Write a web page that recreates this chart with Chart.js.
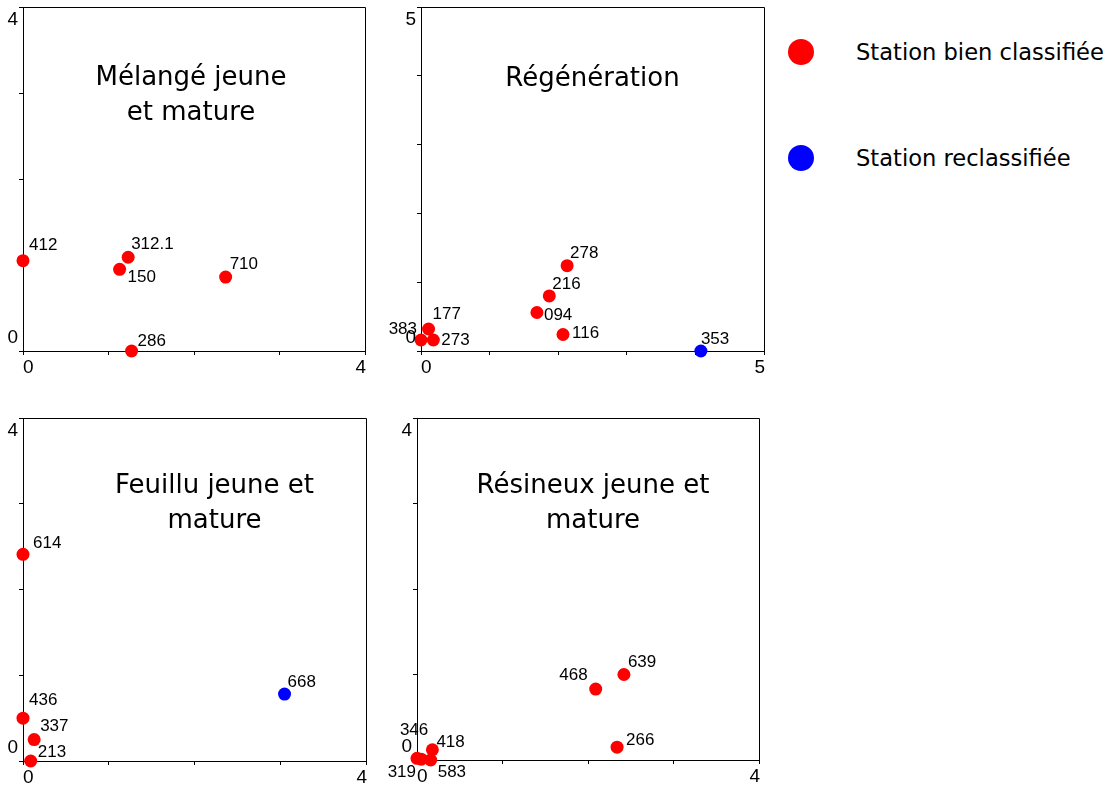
<!DOCTYPE html>
<html lang="fr">
<head>
<meta charset="utf-8">
<script src="https://cdn.jsdelivr.net/npm/chart.js@4"></script>
<style>
  body { margin: 0; background: #fff; width: 1115px; height: 786px; position: relative; overflow: hidden; }
  canvas { position: absolute; }
  .leg { position: absolute; left: 788px; height: 28px; display: flex; align-items: center;
         font: 22.6px "DejaVu Sans", sans-serif; color: #000; white-space: nowrap; }
  .leg .dot { width: 26px; height: 26px; border-radius: 50%; margin-right: 42px; flex: none; }
</style>
</head>
<body>
<canvas id="c1" width="375" height="380" style="left:0;top:0"></canvas>
<canvas id="c2" width="395" height="380" style="left:380px;top:0"></canvas>
<canvas id="c3" width="375" height="386" style="left:0;top:400px"></canvas>
<canvas id="c4" width="395" height="386" style="left:380px;top:400px"></canvas>
<div id="legend"></div>
<script>
// Legend
const legendLabels = ['Station bien classifiée', 'Station reclassifiée'];
const statusColors = ['#ff0000', '#0000ff'];

// Mélangé jeune et mature
const p1Labels = ['412', '312.1', '150', '710', '286'];
const p1X = [0, 1.23, 1.13, 2.37, 1.27];
const p1Y = [1.05, 1.09, 0.95, 0.86, 0];
const p1Status = [0, 0, 0, 0, 0];

// Régénération
const p2Labels = ['383', '177', '273', '094', '216', '278', '116', '353'];
const p2X = [0, 0.11, 0.18, 1.69, 1.87, 2.13, 2.07, 4.08];
const p2Y = [0.16, 0.32, 0.16, 0.56, 0.80, 1.24, 0.24, 0];
const p2Status = [0, 0, 0, 0, 0, 0, 0, 1];

// Feuillu jeune et mature
const p3Labels = ['614', '436', '337', '213', '668'];
const p3X = [0, 0, 0.13, 0.09, 3.05];
const p3Y = [2.41, 0.50, 0.25, 0, 0.78];
const p3Status = [0, 0, 0, 0, 1];

// Résineux jeune et mature
const p4Labels = ['319', '346', '583', '418', '468', '639', '266'];
const p4X = [0, 0.05, 0.16, 0.18, 2.09, 2.42, 2.34];
const p4Y = [0.02, 0.01, 0, 0.12, 0.83, 1.0, 0.15];
const p4Status = [0, 0, 0, 0, 0, 0, 0];

// Tick labels (min, max)
const ticks4 = ['0', '4'];
const ticks5 = ['0', '5'];

// label placement next to each point: [dx, dy, align]
const p1LabelPos = [[6, -15, 'left'], [3, -13, 'left'], [8, 8, 'left'], [4, -13, 'left'], [6, -10, 'left']];
const p2LabelPos = [[-4, -11, 'right'], [4, -15, 'left'], [8, 0, 'left'], [7, 3, 'left'], [3, -12, 'left'],
                    [3, -12, 'left'], [9, -1, 'left'], [0, -12, 'left']];
const p3LabelPos = [[10, -11, 'left'], [6, -18, 'left'], [6, -13, 'left'], [7, -9, 'left'], [3, -12, 'left']];
const p4LabelPos = [[-1, 14, 'right'], [7, -29, 'right'], [7, 12, 'left'], [4, -7, 'left'], [-8, -14, 'right'],
                    [4, -12, 'left'], [9, -7, 'left']];

const panels = [
  { id: 'c1', title: ['Mélangé jeune', 'et mature'], titleDx: -3, titleDy: 78, max: 4, tickLabels: ticks4,
    labels: p1Labels, xs: p1X, ys: p1Y, status: p1Status, labelPos: p1LabelPos,
    yWidth: 23, xHeight: 29, padTop: 7, padRight: 10 },
  { id: 'c2', title: ['Régénération'], titleDx: 0, titleDy: 79, max: 5, tickLabels: ticks5,
    labels: p2Labels, xs: p2X, ys: p2Y, status: p2Status, labelPos: p2LabelPos,
    yWidth: 41, xHeight: 29, padTop: 7, padRight: 11 },
  { id: 'c3', title: ['Feuillu jeune et', 'mature'], titleDx: 20, titleDy: 75, max: 4, tickLabels: ticks4,
    labels: p3Labels, xs: p3X, ys: p3Y, status: p3Status, labelPos: p3LabelPos,
    yWidth: 23, xHeight: 25, padTop: 18, padRight: 9 },
  { id: 'c4', title: ['Résineux jeune et', 'mature'], titleDx: 5, titleDy: 75, max: 4, tickLabels: ticks4,
    labels: p4Labels, xs: p4X, ys: p4Y, status: p4Status, labelPos: p4LabelPos,
    yWidth: 37, xHeight: 26, padTop: 18, padRight: 16 }
];

// frame, end tick labels, title and point labels
function panelPlugin(panel) {
  return {
    id: 'panelDeco',
    afterDraw(chart) {
      const { ctx, chartArea: a, scales: { x, y } } = chart;
      ctx.save();
      ctx.strokeStyle = '#000';
      ctx.lineWidth = 1;
      ctx.beginPath();
      ctx.moveTo(a.left, a.top + 0.5);
      ctx.lineTo(a.right + 0.5, a.top + 0.5);
      ctx.lineTo(a.right + 0.5, a.bottom);
      ctx.stroke();

      ctx.fillStyle = '#000';
      ctx.font = '19px "Liberation Sans", Arial, sans-serif';
      ctx.textBaseline = 'middle';
      ctx.textAlign = 'left';
      ctx.fillText(panel.tickLabels[0], x.getPixelForValue(x.min), a.bottom + 17);
      ctx.textAlign = 'right';
      ctx.fillText(panel.tickLabels[1], x.getPixelForValue(x.max) + 1, a.bottom + 17);
      ctx.fillText(panel.tickLabels[1], a.left - 5, y.getPixelForValue(y.max) + 13);
      ctx.fillText(panel.tickLabels[0], a.left - 5, y.getPixelForValue(y.min) - 13);

      ctx.font = '26px "DejaVu Sans", sans-serif';
      ctx.textAlign = 'center';
      ctx.textBaseline = 'alphabetic';
      const cx = (a.left + a.right) / 2 + panel.titleDx;
      panel.title.forEach((line, i) => ctx.fillText(line, cx, a.top + panel.titleDy + i * 35));

      ctx.font = '17px "Liberation Sans", Arial, sans-serif';
      ctx.textBaseline = 'middle';
      chart.getDatasetMeta(0).data.forEach((pt, i) => {
        const [dx, dy, align] = panel.labelPos[i];
        ctx.textAlign = align;
        ctx.fillText(panel.labels[i], pt.x + dx, pt.y + dy);
      });
      ctx.restore();
    }
  };
}

function axisOptions(panel, fitKey, fitValue) {
  return {
    type: 'linear',
    min: 0,
    max: panel.max,
    ticks: { stepSize: 1, display: false },
    grid: { display: true, drawOnChartArea: false, drawTicks: true, tickLength: 4, color: '#000' },
    border: { display: true, color: '#000', width: 1 },
    afterFit: scale => { scale[fitKey] = fitValue; }
  };
}

panels.forEach(panel => {
  new Chart(document.getElementById(panel.id), {
    type: 'scatter',
    data: {
      datasets: [{
        data: panel.xs.map((v, i) => ({ x: v, y: panel.ys[i] })),
        pointBackgroundColor: panel.status.map(s => statusColors[s]),
        pointBorderWidth: 0,
        pointRadius: 6.5,
        clip: false
      }]
    },
    options: {
      responsive: false,
      animation: false,
      layout: { padding: { top: panel.padTop, right: panel.padRight, left: 0, bottom: 0 } },
      plugins: { legend: { display: false }, tooltip: { enabled: false } },
      scales: {
        x: axisOptions(panel, 'height', panel.xHeight),
        y: axisOptions(panel, 'width', panel.yWidth)
      }
    },
    plugins: [panelPlugin(panel)]
  });
});

// Legend
const legendTops = [38, 144];
const legend = document.getElementById('legend');
legendLabels.forEach((label, i) => {
  const row = document.createElement('div');
  row.className = 'leg';
  row.style.top = legendTops[i] + 'px';
  row.innerHTML = `<span class="dot" style="background:${statusColors[i]}"></span>${label}`;
  legend.appendChild(row);
});
</script>
</body>
</html>
